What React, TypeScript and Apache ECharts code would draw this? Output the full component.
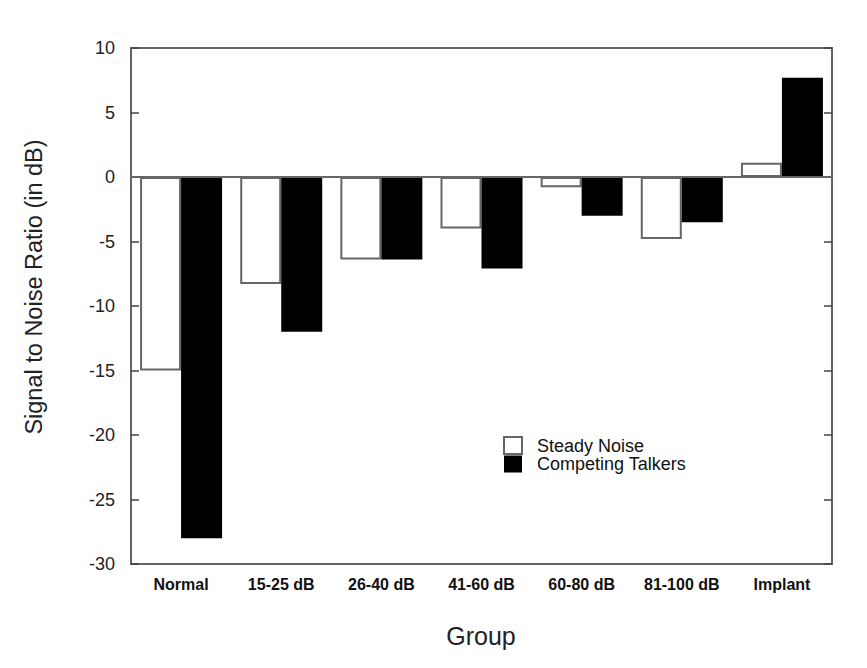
import React, { useEffect, useRef } from "react";
import * as echarts from "echarts";

const categories = ["Normal", "15-25 dB", "26-40 dB", "41-60 dB", "60-80 dB", "81-100 dB", "Implant"];
const steadyNoise = [-15, -8.3, -6.4, -4.0, -0.8, -4.8, 1.1];
const competingTalkers = [-28, -12, -6.4, -7.1, -3.0, -3.5, 7.7];
const yMin = -30;
const yMax = 10;
const yStep = 5;

export default function App() {
  const ref = useRef<HTMLDivElement>(null);
  useEffect(() => {
    if (!ref.current) return;
    const chart = echarts.init(ref.current, null, { renderer: "svg" });
    const font = "'Liberation Sans', Arial, Helvetica, sans-serif";
    const axisColor = "#666";
    const yAxisBase = {
      type: "value",
      min: yMin,
      max: yMax,
      interval: yStep,
      splitLine: { show: false },
      axisLine: { show: false },
      axisTick: { show: true, inside: true, length: 8, lineStyle: { color: "#444", width: 1.5 } },
    };
    chart.setOption({
      animation: false,
      backgroundColor: "#fff",
      textStyle: { fontFamily: font },
      grid: {
        left: 131,
        right: 35,
        top: 48,
        bottom: 104,
        show: true,
        borderColor: axisColor,
        borderWidth: 2,
        backgroundColor: "transparent",
      },
      legend: {
        orient: "vertical",
        left: 498,
        top: 431,
        itemWidth: 18,
        itemHeight: 17,
        itemGap: 0,
        icon: "rect",
        textStyle: {
          fontFamily: font,
          fontSize: 18,
          lineHeight: 18,
          color: "#111",
          padding: [0, 0, 0, 10],
        },
        data: ["Steady Noise", "Competing Talkers"],
      },
      xAxis: {
        type: "category",
        data: categories,
        axisLine: { show: false },
        axisTick: { show: false },
        axisLabel: {
          fontFamily: font,
          fontSize: 16,
          fontWeight: "bold",
          color: "#111",
          margin: 12,
          interval: 0,
        },
      },
      yAxis: [
        {
          ...yAxisBase,
          position: "left",
          axisLabel: { fontFamily: font, fontSize: 18, color: "#222", margin: 16 },
        },
        {
          ...yAxisBase,
          position: "right",
          axisLabel: { show: false },
        },
      ],
      series: [
        {
          name: "Steady Noise",
          type: "bar",
          data: steadyNoise,
          barWidth: 41,
          barGap: "0%",
          itemStyle: { color: "#fff", borderColor: "#666", borderWidth: 2 },
          markLine: {
            silent: true,
            symbol: "none",
            label: { show: false },
            lineStyle: { color: axisColor, width: 2, type: "solid" },
            data: [{ yAxis: 0 }],
          },
        },
        {
          name: "Competing Talkers",
          type: "bar",
          data: competingTalkers,
          barWidth: 41,
          barGap: "0%",
          itemStyle: { color: "#000", borderColor: "#000", borderWidth: 0 },
        },
      ],
      graphic: [
        {
          type: "text",
          x: 34,
          y: 287,
          rotation: Math.PI / 2,
          style: {
            text: "Signal to Noise Ratio (in dB)",
            font: `23.5px ${font}`,
            fill: "#222",
            align: "center",
            verticalAlign: "middle",
          },
        },
        {
          type: "text",
          x: 481,
          y: 636,
          style: {
            text: "Group",
            font: `25px ${font}`,
            fill: "#222",
            align: "center",
            verticalAlign: "middle",
          },
        },
      ],
    });
    return () => chart.dispose();
  }, []);
  return (
    <div
      ref={ref}
      style={{ position: "absolute", left: 0, top: 0, width: 867, height: 668 }}
    />
  );
}
